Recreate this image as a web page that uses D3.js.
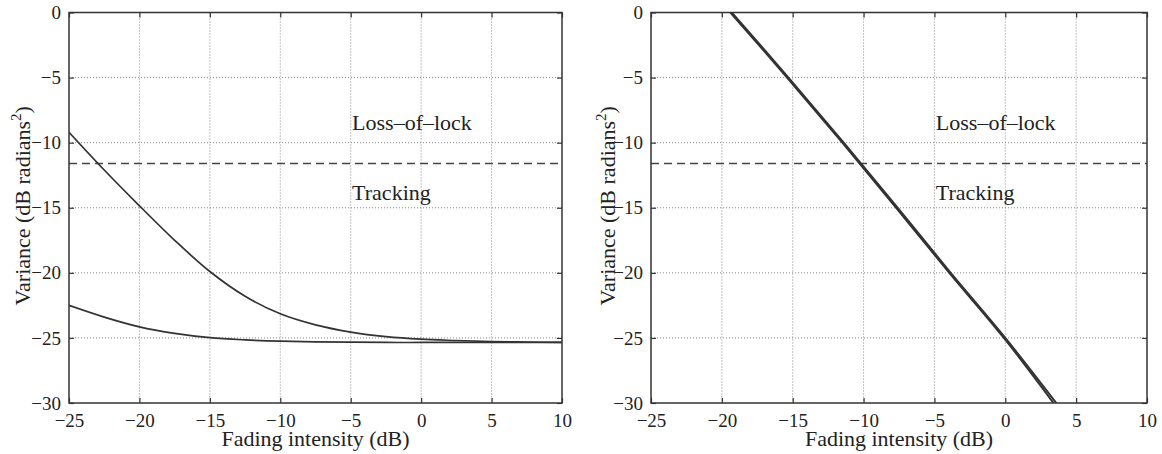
<!DOCTYPE html>
<html>
<head>
<meta charset="utf-8">
<script src="https://cdn.jsdelivr.net/npm/d3@7"></script>
<style>
	body { margin: 0; background: #fff; }
	text { font-family: "Liberation Serif", "Times New Roman", serif; fill: #222; }
</style>
</head>
<body>
<script>
var xTicks = [-25, -20, -15, -10, -5, 0, 5, 10];
var yTicks = [0, -5, -10, -15, -20, -25, -30];

var threshold = -11.6;

// left panel
var leftFading = [-25, -22.5, -20, -17.5, -15, -12.5, -10, -7.5, -5, -2.5, 0, 2.5, 5, 7.5, 10];
var leftUpper = [-9.2, -12.1, -14.85, -17.5, -19.9, -21.8, -23.15, -24.0, -24.55, -24.9, -25.1, -25.2, -25.28, -25.32, -25.35];
var leftLower = [-22.5, -23.4, -24.15, -24.65, -24.98, -25.15, -25.25, -25.3, -25.33, -25.35, -25.35, -25.35, -25.35, -25.35, -25.35];

// right panel
var rightFadingA = [-19.4, -15.4, -11.5, -7.7, -3.95, -0.1, 3.4];
var rightFadingB = [-19.3, -15.3, -11.4, -7.6, -3.85, 0.0, 3.6];
var rightVar = [0, -5, -10, -15, -20, -25, -30];

var w = 1162;
var h = 454;

var svg = d3.select("body")
	.append("svg")
	.attr("width", w)
	.attr("height", h);

function drawPanel(left, right, labelOffset, series) {
	var top = 12.5;
	var bottom = 403;

	var x = d3.scaleLinear().domain([-25, 10]).range([left, right]);
	var y = d3.scaleLinear().domain([-30, 0]).range([bottom, top]);

	var g = svg.append("g");

	var clipId = "clip" + Math.round(left);
	g.append("clipPath").attr("id", clipId)
		.append("rect")
		.attr("x", left).attr("y", top)
		.attr("width", right - left).attr("height", bottom - top);

	//grid
	g.selectAll("line.vgrid")
		.data(xTicks.slice(1, -1))
		.enter()
		.append("line")
		.attr("x1", function(d) { return x(d); })
		.attr("x2", function(d) { return x(d); })
		.attr("y1", top).attr("y2", bottom)
		.attr("stroke", "#888")
		.attr("stroke-width", 1)
		.attr("stroke-dasharray", "1,2");

	g.selectAll("line.hgrid")
		.data(yTicks.slice(1, -1))
		.enter()
		.append("line")
		.attr("y1", function(d) { return y(d); })
		.attr("y2", function(d) { return y(d); })
		.attr("x1", left).attr("x2", right)
		.attr("stroke", "#888")
		.attr("stroke-width", 1)
		.attr("stroke-dasharray", "1,2");

	//threshold
	g.append("line")
		.attr("x1", left).attr("x2", right)
		.attr("y1", y(threshold)).attr("y2", y(threshold))
		.attr("stroke", "#444")
		.attr("stroke-width", 1.4)
		.attr("stroke-dasharray", "8,5");

	//curves
	var line = d3.line()
		.x(function(d) { return x(d[0]); })
		.y(function(d) { return y(d[1]); })
		.curve(d3.curveCatmullRom);

	series.forEach(function(s) {
		g.append("path")
			.attr("clip-path", "url(#" + clipId + ")")
			.attr("d", line(d3.zip(s.x, s.y)))
			.attr("fill", "none")
			.attr("stroke", "#333")
			.attr("stroke-width", s.width);
	});

	//axes with inward ticks
	var axB = g.append("g").attr("transform", "translate(0," + bottom + ")")
		.call(d3.axisBottom(x).tickValues(xTicks).tickSizeInner(-5).tickSizeOuter(0).tickPadding(11));
	var axT = g.append("g").attr("transform", "translate(0," + top + ")")
		.call(d3.axisTop(x).tickValues(xTicks).tickSizeInner(-5).tickSizeOuter(0).tickFormat(""));
	var axL = g.append("g").attr("transform", "translate(" + left + ",0)")
		.call(d3.axisLeft(y).tickValues(yTicks).tickSizeInner(-5).tickSizeOuter(0).tickPadding(8));
	var axR = g.append("g").attr("transform", "translate(" + right + ",0)")
		.call(d3.axisRight(y).tickValues(yTicks).tickSizeInner(-5).tickSizeOuter(0).tickFormat(""));

	[axB, axT, axL, axR].forEach(function(a) {
		a.select(".domain").remove();
		a.selectAll("line").attr("stroke", "#333").attr("stroke-width", 1.2);
		a.selectAll("text")
			.style("font-family", "Liberation Serif")
			.style("font-size", "19px")
			.attr("fill", "#222");
	});

	g.append("rect")
		.attr("x", left).attr("y", top)
		.attr("width", right - left).attr("height", bottom - top)
		.attr("fill", "none")
		.attr("stroke", "#333")
		.attr("stroke-width", 1.5);

	//labels
	g.append("text")
		.attr("x", (left + right) / 2)
		.attr("y", 446)
		.attr("text-anchor", "middle")
		.style("font-size", "22px")
		.text("Fading intensity (dB)");

	var yl = g.append("text")
		.attr("transform", "translate(" + (left - labelOffset) + "," + ((top + bottom) / 2 - 2) + ") rotate(-90)")
		.attr("text-anchor", "middle")
		.style("font-size", "22px");
	yl.append("tspan").text("Variance (dB radians");
	yl.append("tspan").attr("dy", -9).style("font-size", "15px").text("2");
	yl.append("tspan").attr("dy", 9).text(")");

	g.append("text")
		.attr("x", x(-4.9)).attr("y", y(-9.05))
		.style("font-size", "22px")
		.text("Loss\u2013of\u2013lock");
	g.append("text")
		.attr("x", x(-4.9)).attr("y", y(-14.4))
		.style("font-size", "22px")
		.text("Tracking");
}

drawPanel(69, 562, 39, [
	{x: leftFading, y: leftUpper, width: 1.7},
	{x: leftFading, y: leftLower, width: 1.7}
]);

drawPanel(651, 1147, 36, [
	{x: rightFadingA, y: rightVar, width: 2},
	{x: rightFadingB, y: rightVar, width: 2}
]);
</script>
</body>
</html>
